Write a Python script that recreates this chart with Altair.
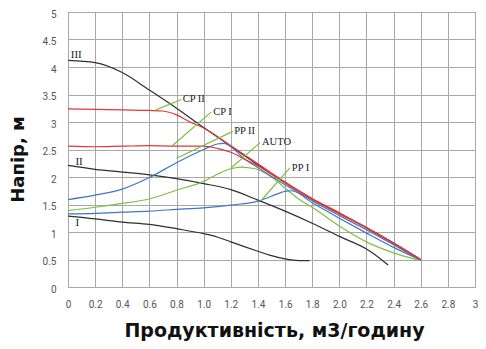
import altair as alt
import pandas as pd

# ---- data ----
iii_x = [0, 0.2, 0.4, 0.6, 0.8, 1.0, 1.2, 1.4, 1.6, 1.8, 2.0, 2.2, 2.4, 2.6]
iii_y = [4.12, 4.08, 3.9, 3.58, 3.25, 2.9, 2.56, 2.22, 1.9, 1.6, 1.34, 1.08, 0.8, 0.5]

ii_x = [0, 0.2, 0.4, 0.6, 0.8, 1.0, 1.2, 1.4, 1.6, 1.8, 2.0, 2.2, 2.3, 2.36]
ii_y = [2.21, 2.14, 2.09, 2.04, 1.97, 1.88, 1.77, 1.58, 1.38, 1.16, 0.92, 0.69, 0.52, 0.40]

i_x = [0, 0.2, 0.4, 0.6, 0.8, 1.0, 1.1, 1.2, 1.4, 1.5, 1.6, 1.7, 1.78]
i_y = [1.29, 1.24, 1.18, 1.14, 1.06, 0.97, 0.91, 0.82, 0.65, 0.57, 0.51, 0.48, 0.48]

cp2_x = [0, 0.2, 0.4, 0.6, 0.7, 0.8, 0.9, 1.0, 1.2, 1.4, 1.6, 1.8, 2.0, 2.2, 2.4, 2.6]
cp2_y = [3.24, 3.23, 3.22, 3.21, 3.2, 3.13, 3.0, 2.89, 2.57, 2.24, 1.91, 1.61, 1.35, 1.08, 0.8, 0.5]

cp1_x = [0, 0.2, 0.4, 0.6, 0.8, 1.0, 1.1, 1.2, 1.32, 1.4, 1.6, 1.8, 2.0, 2.2, 2.4, 2.6]
cp1_y = [2.56, 2.55, 2.56, 2.57, 2.56, 2.56, 2.52, 2.45, 2.3, 2.2, 1.89, 1.59, 1.33, 1.07, 0.79, 0.49]

pp2_x = [0, 0.2, 0.4, 0.6, 0.8, 1.0, 1.1, 1.15, 1.2, 1.3, 1.4, 1.6, 1.8, 2.0, 2.2, 2.4, 2.6]
pp2_y = [1.59, 1.67, 1.78, 1.99, 2.26, 2.5, 2.6, 2.61, 2.55, 2.33, 2.17, 1.86, 1.57, 1.3, 1.04, 0.77, 0.49]

pp1_x = [0, 0.2, 0.4, 0.6, 0.8, 1.0, 1.2, 1.4, 1.5, 1.6, 1.65, 1.8, 2.0, 2.2, 2.4, 2.6]
pp1_y = [1.33, 1.34, 1.36, 1.38, 1.41, 1.44, 1.49, 1.56, 1.65, 1.74, 1.75, 1.53, 1.25, 0.98, 0.72, 0.49]

auto_x = [0, 0.2, 0.4, 0.6, 0.8, 1.0, 1.1, 1.2, 1.27, 1.38, 1.5, 1.6, 1.7, 1.8, 2.0, 2.2, 2.4, 2.58]
auto_y = [1.39, 1.45, 1.52, 1.6, 1.76, 1.92, 2.05, 2.15, 2.18, 2.15, 2.0, 1.8, 1.6, 1.45, 1.11, 0.82, 0.62, 0.49]

# annotation labels (text, x, y) and leader lines (label end -> curve end)
ann_text = ["CP II", "CP I", "PP II", "AUTO", "PP I"]
ann_x = [0.845, 1.07, 1.225, 1.43, 1.65]
ann_y = [3.42, 3.19, 2.83, 2.63, 2.16]
lead_x1 = [0.836, 1.055, 1.215, 1.418, 1.636]
lead_y1 = [3.41, 3.18, 2.83, 2.63, 2.165]
lead_x2 = [0.647, 0.764, 0.80, 1.2, 1.433]
lead_y2 = [3.22, 2.56, 2.34, 2.16, 1.60]

speed_text = ["III", "II", "I"]
speed_x = [0.02, 0.055, 0.055]
speed_y = [4.22, 2.28, 1.17]

x_ticks = [0, 0.2, 0.4, 0.6, 0.8, 1.0, 1.2, 1.4, 1.6, 1.8, 2.0, 2.2, 2.4, 2.6, 2.8, 3.0]
y_ticks = [0, 0.5, 1, 1.5, 2, 2.5, 3, 3.5, 4, 4.5, 5]


def frame(name, xs, ys):
    return pd.DataFrame({"x": xs, "y": ys, "series": name, "i": range(len(xs))})


black = pd.concat([frame("III", iii_x, iii_y), frame("II", ii_x, ii_y), frame("I", i_x, i_y)])
green = frame("AUTO", auto_x, auto_y)
blue = pd.concat([frame("PP II", pp2_x, pp2_y), frame("PP I", pp1_x, pp1_y)])
red = pd.concat([frame("CP II", cp2_x, cp2_y), frame("CP I", cp1_x, cp1_y)])

leaders = pd.DataFrame({"x": lead_x1, "y": lead_y1, "x2": lead_x2, "y2": lead_y2, "t": ann_text})
ann = pd.DataFrame({"x": ann_x, "y": ann_y, "t": ann_text})
spd = pd.DataFrame({"x": speed_x, "y": speed_y, "t": speed_text})

xs = alt.Scale(domain=[0, 3], nice=False)
ys = alt.Scale(domain=[0, 5], nice=False)

x_enc = alt.X(
    "x:Q", scale=xs,
    axis=alt.Axis(
        values=x_ticks, tickCount=40, title="Продуктивність, м3/годину",
        labelExpr="datum.value == 0 ? '0' : datum.value == 3 ? '3' : format(datum.value, '.1f')",
        titleX=206, titleY=49, titleBaseline="alphabetic", titleAlign="center",
        titleFontSize=19,
        labelPadding=12, labelOverlap=False, labelFlush=False,
    ),
)
y_enc = alt.Y(
    "y:Q", scale=ys,
    axis=alt.Axis(
        values=y_ticks, tickCount=40, title="Напір, м",
        labelExpr="'' + datum.value",
        titleX=-45, titleY=147, titleBaseline="alphabetic", titleAlign="center", titleAngle=270,
        titleFontSize=18,
        labelPadding=12, labelOverlap=False, labelFlush=False, labelOffset=2,
    ),
)


def lines(df, color):
    return alt.Chart(df).mark_line(color=color, strokeWidth=1.2, interpolate="monotone").encode(
        x=x_enc, y=y_enc, detail="series:N", order="i:Q"
    )


layer_black = lines(black, "#2f2f2f")
layer_green = lines(green, "#7cc142")
layer_blue = lines(blue, "#3e77c2")
layer_red = lines(red, "#e0383a")

layer_leaders = alt.Chart(leaders).mark_rule(color="#7cc142", strokeWidth=1.2).encode(
    x="x:Q", y="y:Q", x2="x2:Q", y2="y2:Q"
)
layer_ann = alt.Chart(ann).mark_text(
    align="left", baseline="middle", font="Liberation Serif", fontSize=10.5, color="#222"
).encode(x="x:Q", y="y:Q", text="t:N")
layer_spd = alt.Chart(spd).mark_text(
    align="left", baseline="middle", font="Liberation Serif", fontSize=11, color="#222"
).encode(x="x:Q", y="y:Q", text="t:N")

chart = (
    alt.layer(layer_black, layer_green, layer_blue, layer_red, layer_leaders, layer_ann, layer_spd)
    .properties(
        width=407, height=275,
        autosize=alt.AutoSizeParams(type="none"),
        padding={"left": 60, "top": 4, "right": 3, "bottom": 54},
    )
    .configure_view(stroke="#9a9a9a", strokeWidth=1)
    .configure_axis(
        grid=True, gridColor="#a8a8a8", gridWidth=1, gridOpacity=1,
        domain=False, ticks=False,
        labelFont="Roboto", labelFontSize=10, labelColor="#555",
        titleFont="DejaVu Sans", titleFontWeight="bold", titleColor="#111",
    )
)

chart.save("out.html", embed_options={"renderer": "svg", "actions": False})
